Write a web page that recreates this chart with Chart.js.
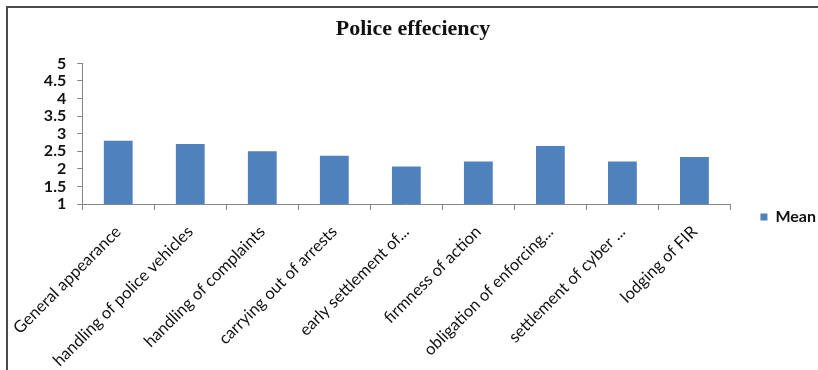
<!DOCTYPE html>
<html>
<head>
<meta charset="utf-8">
<title>Police effeciency</title>
<script src="https://cdn.jsdelivr.net/npm/chart.js@4.4.1/dist/chart.umd.min.js"></script>
<style>
  html, body { margin: 0; padding: 0; background: #fff; }
  #wrap { position: relative; width: 818px; height: 370px; overflow: hidden; }
  #frame {
    position: absolute; left: 6px; top: 6px; width: 900px; height: 500px;
    border-top: 2px solid #4a4a4a; border-left: 2px solid #4a4a4a;
  }
  #chart { position: absolute; left: 0; top: 0; }
</style>
</head>
<body>
<div id="wrap">
  <div id="frame"></div>
  <canvas id="chart" width="818" height="434"></canvas>
</div>
<script>
  // Valores medios por aspecto evaluado
  const categories = [
    "General appearance",
    "handling of police vehicles",
    "handling of complaints",
    "carrying out of arrests",
    "early settlement of...",
    "firmness of action",
    "obligation of enforcing...",
    "settlement of cyber ...",
    "lodging of FIR"
  ];
  const meanValues = [2.8, 2.71, 2.5, 2.37, 2.07, 2.21, 2.65, 2.21, 2.34];
  const yMin = 1;
  const yMax = 5;
  const yStep = 0.5;

  const axisColor = "#868686";
  const labelFont = "Lato, 'Open Sans', sans-serif";

  const ctx = document.getElementById("chart").getContext("2d");

  new Chart(ctx, {
    type: "bar",
    data: {
      labels: categories,
      datasets: [
        {
          label: "Mean",
          data: meanValues,
          backgroundColor: "#4f81bd",
          barPercentage: 0.4,
          categoryPercentage: 1.0,
        },
      ],
    },
    options: {
      responsive: false,
      animation: false,
      layout: { padding: { left: 0, right: -8, top: 0, bottom: 0 } },
      plugins: {
        title: {
          display: true,
          text: "Police effeciency",
          color: "#111",
          font: { family: "'Liberation Serif', 'Times New Roman', serif", size: 22, weight: "bold", lineHeight: 1.2 },
          padding: { top: 16, bottom: 21 },
        },
        legend: {
          position: "right",
          labels: {
            boxWidth: 7,
            boxHeight: 7,
            padding: 30,
            color: "#111",
            font: { family: labelFont, size: 16, weight: "bold" },
          },
        },
        tooltip: { enabled: false },
      },
      scales: {
        x: {
          grid: {
            drawOnChartArea: false,
            drawTicks: true,
            tickLength: 6,
            tickColor: axisColor,
          },
          border: { color: axisColor, width: 1 },
          ticks: {
            maxRotation: 45,
            minRotation: 45,
            autoSkip: false,
            padding: 12,
            color: "#111",
            font: { family: labelFont, size: 16.5 },
          },
          afterFit: (scale) => { scale.height = 230; },
        },
        y: {
          min: yMin,
          max: yMax,
          grid: {
            drawOnChartArea: false,
            drawTicks: true,
            tickLength: 5,
            tickColor: axisColor,
          },
          border: { color: axisColor, width: 1 },
          ticks: {
            stepSize: yStep,
            autoSkip: false,
            padding: 11,
            color: "#111",
            font: { family: labelFont, size: 16, weight: "bold" },
            callback: (value) => String(value),
          },
          afterFit: (scale) => { scale.width = 78; },
        },
      },
    },
  });
</script>
</body>
</html>
